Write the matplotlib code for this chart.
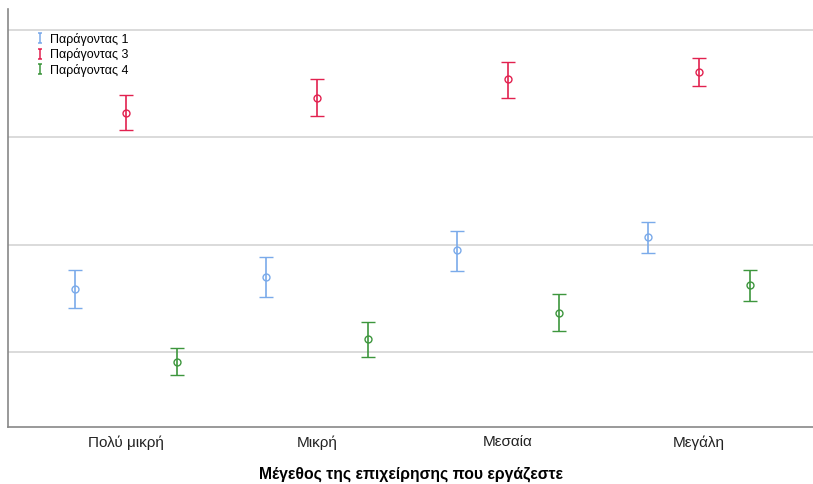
import matplotlib.pyplot as plt
from matplotlib.lines import Line2D
from matplotlib.path import Path
import numpy as np

plt.rcParams['font.family'] = ['Liberation Sans', 'DejaVu Sans']

categories = ['Πολύ μικρή', 'Μικρή', 'Μεσαία', 'Μεγάλη']
series_names = ['Παράγοντας 1', 'Παράγοντας 3', 'Παράγοντας 4']
colors = ['#7aaaea', '#e2214f', '#3d963d']

# mean, lower, upper for each factor (no axis scale shown in the original)
f1_mean = [1.59, 1.70, 1.95, 2.07]
f1_low = [1.41, 1.51, 1.75, 1.92]
f1_high = [1.76, 1.88, 2.13, 2.21]

f3_mean = [3.23, 3.37, 3.54, 3.61]
f3_low = [3.07, 3.20, 3.37, 3.48]
f3_high = [3.39, 3.54, 3.70, 3.74]

f4_mean = [0.91, 1.12, 1.36, 1.62]
f4_low = [0.78, 0.95, 1.19, 1.47]
f4_high = [1.04, 1.28, 1.54, 1.76]

means = [f1_mean, f3_mean, f4_mean]
lows = [f1_low, f3_low, f4_low]
highs = [f1_high, f3_high, f4_high]
offsets = [-0.267, 0.0, 0.267]

fig = plt.figure(figsize=(8.13, 4.84), dpi=100)
ax = fig.add_axes([8 / 813, 57 / 484, 805 / 813, 418 / 484])

x = np.arange(len(categories))
for name, c, m, lo, hi, off in zip(series_names, colors, means, lows, highs, offsets):
    m = np.array(m)
    err = [m - np.array(lo), np.array(hi) - m]
    ax.errorbar(x + off, m, yerr=err, fmt='o', color=c, mfc='none', mec=c,
                ms=5, mew=1.0, elinewidth=1.2, capsize=5, capthick=1.2)

ax.set_xlim(-0.618, 3.597)
ax.set_ylim(0.30, 4.195)
ax.set_yticks([1, 2, 3, 4])
ax.yaxis.grid(True, color='#d4d4d4', linewidth=1.2)
ax.set_axisbelow(True)
ax.tick_params(axis='y', left=False, labelleft=False)
ax.tick_params(axis='x', length=0, labelsize=11, colors='#222222', pad=6)
ax.set_xticks(x)
ax.set_xticklabels(categories)
for s in ['top', 'right']:
    ax.spines[s].set_visible(False)
for s in ['left', 'bottom']:
    ax.spines[s].set_color('#888888')
    ax.spines[s].set_linewidth(1.2)

ax.set_xlabel('Μέγεθος της επιχείρησης που εργάζεστε', fontsize=11.3,
              fontweight='bold', labelpad=12)

# small "I" shaped error-bar glyph for the legend
ibar = Path([(-0.5, -1), (0.5, -1), (0, -1), (0, 1), (-0.5, 1), (0.5, 1)],
            [Path.MOVETO, Path.LINETO, Path.MOVETO, Path.LINETO,
             Path.MOVETO, Path.LINETO])
handles = [Line2D([], [], linestyle='none', marker=ibar, color=c,
                  markersize=7, mew=1.1, fillstyle='none') for c in colors]
ax.legend(handles, series_names, loc='upper left', bbox_to_anchor=(0.029, 0.955),
          frameon=False, fontsize=9, handlelength=0.6, handletextpad=0.5,
          labelspacing=0.2, borderaxespad=0)

fig.savefig('out.png', dpi=100)
